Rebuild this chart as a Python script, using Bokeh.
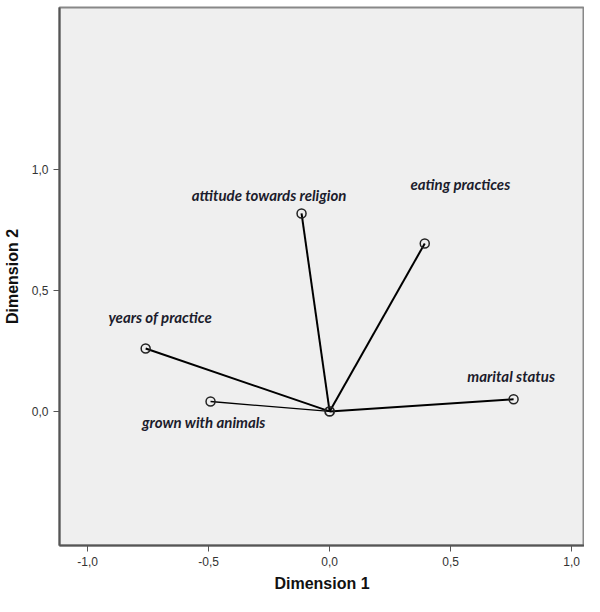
from bokeh.plotting import figure
from bokeh.models import ColumnDataSource, Range1d, FixedTicker, LabelSet
from bokeh.embed import file_html
from bokeh.resources import INLINE
from bokeh.core.properties import value

variables = ["years of practice", "grown with animals", "attitude towards religion",
             "eating practices", "marital status"]
dim1 = [-0.760, -0.492, -0.116, 0.393, 0.760]
dim2 = [0.260, 0.041, 0.818, 0.694, 0.050]
widths = [2.0, 1.3, 2.0, 2.0, 2.0]
label_x = [-0.70, -0.52, -0.25, 0.54, 0.75]
label_y = [0.390, -0.045, 0.895, 0.940, 0.145]
x_ticks = [-1.0, -0.5, 0.0, 0.5, 1.0]
x_tick_labels = ["-1,0", "-0,5", "0,0", "0,5", "1,0"]
y_ticks = [0.0, 0.5, 1.0]
y_tick_labels = ["0,0", "0,5", "1,0"]

p = figure(width=584, height=596, output_backend="svg", toolbar_location=None,
           x_range=Range1d(-1.116, 1.053), y_range=Range1d(-0.554, 1.669),
           min_border_left=59, min_border_top=7, min_border_right=0, min_border_bottom=51)

p.background_fill_color = "#efefef"
p.border_fill_color = "white"
p.outline_line_color = "#888888"
p.outline_line_width = 2
p.grid.visible = False

for ax, lab, tk, tl in ((p.xaxis, "Dimension 1", x_ticks, x_tick_labels),
                        (p.yaxis, "Dimension 2", y_ticks, y_tick_labels)):
    ax.ticker = FixedTicker(ticks=tk)
    ax.major_label_overrides = {t: s for t, s in zip(tk, tl)}
    ax.axis_label = lab
    ax.axis_label_text_font = "Liberation Sans"
    ax.axis_label_text_font_style = "bold"
    ax.axis_label_text_font_size = "16px"
    ax.axis_label_text_color = "#111111"
    ax.major_label_text_font = "Liberation Sans"
    ax.major_label_text_font_size = "12px"
    ax.major_label_text_color = "#333333"
    ax.major_label_standoff = 5
    ax.minor_tick_line_color = None
    ax.major_tick_in = 0
    ax.major_tick_out = 6
    ax.major_tick_line_color = "#555555"
    ax.axis_line_color = "#555555"
    ax.axis_line_width = 2

p.xaxis.axis_label_standoff = 6
p.yaxis.axis_label_standoff = 8
p.yaxis.major_label_orientation = "horizontal"

src = ColumnDataSource(dict(
    xs=[[0, x] for x in dim1], ys=[[0, y] for y in dim2], w=widths,
    x=dim1, y=dim2, name=variables, lx=label_x, ly=label_y))

p.multi_line(xs="xs", ys="ys", line_width="w", line_color="black", source=src)
p.scatter(x="x", y="y", size=9, marker="circle", fill_color=None,
          line_color="#222222", line_width=1.5, source=src)
p.scatter(x=[0], y=[0], size=9, marker="circle", fill_color=None,
          line_color="#222222", line_width=1.8)

labels = LabelSet(x="lx", y="ly", text="name", source=src, text_align="center",
                  text_baseline="middle", text_font=value("Lato"), text_font_size="15px",
                  text_font_style="bold italic", text_color="#1c1c2c")
p.add_layout(labels)

open("out.html", "w").write(file_html(p, INLINE))
